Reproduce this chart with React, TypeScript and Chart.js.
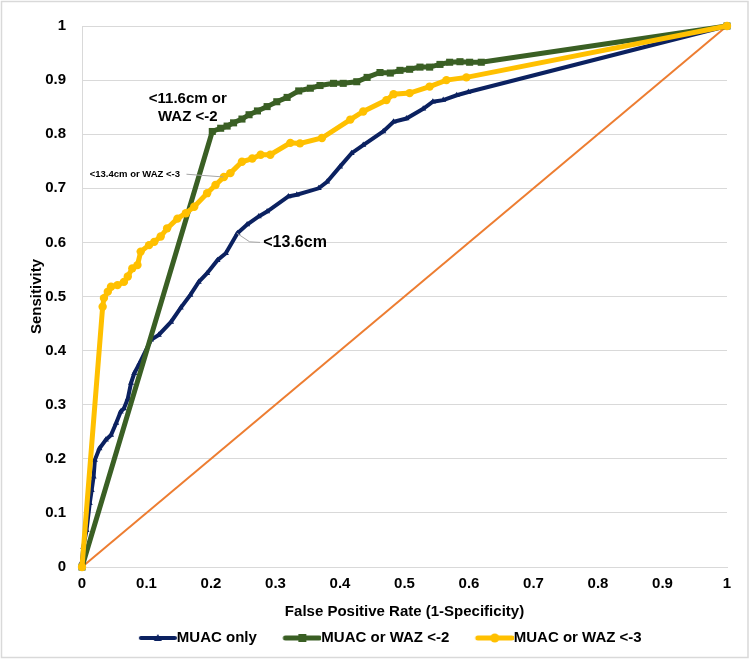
import React, { useEffect, useRef } from 'react';
import { Chart, registerables } from 'chart.js';

Chart.register(...registerables);

// ---------- data ----------
const seriesNames = ['MUAC only', 'MUAC or WAZ <-2', 'MUAC or WAZ <-3'];

const muacOnlyX = [0, 0.0, 0.002, 0.007, 0.012, 0.015, 0.018, 0.02, 0.027, 0.037, 0.045, 0.053, 0.06, 0.065, 0.071, 0.076, 0.081, 0.089, 0.107, 0.119, 0.138, 0.153, 0.168, 0.181, 0.194, 0.21, 0.223, 0.241, 0.256, 0.274, 0.287, 0.32, 0.333, 0.367, 0.38, 0.4, 0.418, 0.436, 0.467, 0.483, 0.503, 0.529, 0.544, 0.56, 0.581, 0.599, 1];
const muacOnlyY = [0, 0.01, 0.037, 0.068, 0.118, 0.142, 0.167, 0.198, 0.219, 0.235, 0.244, 0.266, 0.287, 0.293, 0.311, 0.34, 0.358, 0.376, 0.42, 0.429, 0.453, 0.479, 0.503, 0.527, 0.543, 0.567, 0.58, 0.617, 0.633, 0.648, 0.657, 0.685, 0.688, 0.7, 0.712, 0.74, 0.765, 0.78, 0.805, 0.823, 0.829, 0.847, 0.86, 0.863, 0.872, 0.878, 1];

const waz2X = [0, 0.202, 0.215, 0.225, 0.235, 0.248, 0.259, 0.272, 0.287, 0.302, 0.318, 0.336, 0.354, 0.369, 0.39, 0.405, 0.426, 0.442, 0.462, 0.478, 0.493, 0.508, 0.524, 0.539, 0.555, 0.57, 0.586, 0.601, 0.619, 1];
const waz2Y = [0, 0.805, 0.811, 0.815, 0.821, 0.828, 0.836, 0.843, 0.851, 0.86, 0.868, 0.88, 0.885, 0.89, 0.894, 0.894, 0.897, 0.905, 0.914, 0.913, 0.918, 0.92, 0.924, 0.924, 0.929, 0.933, 0.934, 0.933, 0.933, 1];

const waz3X = [0, 0.032, 0.034, 0.04, 0.045, 0.055, 0.065, 0.071, 0.078, 0.086, 0.091, 0.104, 0.112, 0.122, 0.132, 0.148, 0.161, 0.174, 0.194, 0.207, 0.22, 0.23, 0.248, 0.264, 0.277, 0.292, 0.323, 0.338, 0.372, 0.416, 0.436, 0.472, 0.483, 0.508, 0.539, 0.565, 0.596, 1];
const waz3Y = [0, 0.481, 0.497, 0.509, 0.518, 0.521, 0.527, 0.537, 0.552, 0.558, 0.583, 0.595, 0.601, 0.611, 0.626, 0.644, 0.654, 0.666, 0.691, 0.706, 0.721, 0.728, 0.749, 0.755, 0.762, 0.762, 0.784, 0.783, 0.793, 0.827, 0.842, 0.863, 0.874, 0.876, 0.888, 0.9, 0.905, 1];

const refX = [0, 1];
const refY = [0, 1];

const xTickLabels = ['0', '0.1', '0.2', '0.3', '0.4', '0.5', '0.6', '0.7', '0.8', '0.9', '1'];
const yTickLabels = ['0', '0.1', '0.2', '0.3', '0.4', '0.5', '0.6', '0.7', '0.8', '0.9', '1'];
const xTitle = 'False Positive Rate (1-Specificity)';
const yTitle = 'Sensitivity';

// annotations (anchored in data units)
const annotations = [
  { lines: ['<11.6cm or', 'WAZ <-2'], x: 0.164, y: 0.865, size: 15, align: 'center', leader: null },
  { lines: ['<13.4cm or WAZ <-3'], x: 0.012, y: 0.726, size: 9.5, align: 'left', leader: [[0.162, 0.726], [0.219, 0.721]] },
  { lines: ['<13.6cm'], x: 0.281, y: 0.599, size: 16, align: 'left', leader: [[0.24, 0.617], [0.26, 0.601], [0.276, 0.6]] },
];

// ---------- styles ----------
const FONT = '"Liberation Sans", Arial, sans-serif';
const NAVY = '#0b2160';
const GREEN = '#3a5f24';
const YELLOW = '#ffc000';
const ORANGE = '#ed7d31';

function toPoints(xs: number[], ys: number[]) {
  return xs.map((x, i) => ({ x, y: ys[i] }));
}

function makeLegendIcon(color: string, shape: string, lineWidth: number) {
  const c = document.createElement('canvas');
  c.width = 62;
  c.height = 14;
  const g = c.getContext('2d')!;
  const y = 7;
  const x0 = 24;
  const x1 = 62;
  g.strokeStyle = color;
  g.fillStyle = color;
  g.lineWidth = lineWidth;
  g.lineCap = 'round';
  g.beginPath();
  g.moveTo(x0 + 2, y);
  g.lineTo(x1 - 2, y);
  g.stroke();
  const cx = (x0 + x1) / 2;
  g.beginPath();
  if (shape === 'triangle') {
    g.moveTo(cx, y - 4);
    g.lineTo(cx + 4, y + 3);
    g.lineTo(cx - 4, y + 3);
    g.closePath();
    g.fill();
  } else if (shape === 'rect') {
    g.fillRect(cx - 4, y - 4, 8, 8);
  } else {
    g.arc(cx, y, 4.5, 0, Math.PI * 2);
    g.fill();
  }
  return c;
}

const framePlugin = {
  id: 'frame',
  beforeDraw(chart: any) {
    const { ctx, width, height } = chart;
    ctx.save();
    ctx.fillStyle = '#ffffff';
    ctx.fillRect(0, 0, width, height);
    ctx.strokeStyle = '#d9d9d9';
    ctx.lineWidth = 1.5;
    ctx.strokeRect(1.5, 1.5, width - 3.5, height - 4);
    ctx.restore();
  },
};

const annotationPlugin = {
  id: 'rocAnnotations',
  afterDatasetsDraw(chart: any) {
    const { ctx } = chart;
    const xs = chart.scales.x;
    const ys = chart.scales.y;
    ctx.save();
    for (const a of annotations) {
      if (a.leader) {
        ctx.beginPath();
        a.leader.forEach(([lx, ly]: number[], i: number) => {
          const px = xs.getPixelForValue(lx);
          const py = ys.getPixelForValue(ly);
          if (i === 0) ctx.moveTo(px, py);
          else ctx.lineTo(px, py);
        });
        ctx.strokeStyle = '#a6a6a6';
        ctx.lineWidth = 1;
        ctx.stroke();
      }
      ctx.font = `bold ${a.size}px ${FONT}`;
      ctx.fillStyle = '#000000';
      ctx.textAlign = a.align;
      ctx.textBaseline = 'middle';
      const ax = xs.getPixelForValue(a.x);
      const ay = ys.getPixelForValue(a.y);
      a.lines.forEach((t: string, i: number) => ctx.fillText(t, ax, ay + i * a.size * 1.2));
    }
    ctx.restore();
  },
};

export default function App() {
  const canvasRef = useRef<HTMLCanvasElement | null>(null);

  useEffect(() => {
    const canvas = canvasRef.current;
    if (!canvas) return;
    const icons = [
      makeLegendIcon(NAVY, 'triangle', 4),
      makeLegendIcon(GREEN, 'rect', 5),
      makeLegendIcon(YELLOW, 'circle', 5),
    ];
    const tickFont = { family: FONT, size: 15, weight: 'bold' as const };

    const chart = new Chart(canvas, {
      type: 'line',
      data: {
        datasets: [
          {
            label: seriesNames[0],
            data: toPoints(muacOnlyX, muacOnlyY),
            borderColor: NAVY,
            backgroundColor: NAVY,
            borderWidth: 4,
            pointStyle: 'triangle',
            pointRadius: 3.5,
            pointBorderWidth: 0,
            pointBackgroundColor: NAVY,
            tension: 0,
            clip: false,
            order: 3,
          },
          {
            label: seriesNames[1],
            data: toPoints(waz2X, waz2Y),
            borderColor: GREEN,
            backgroundColor: GREEN,
            borderWidth: 5,
            pointStyle: 'rect',
            pointRadius: 5,
            pointBorderWidth: 0,
            pointBackgroundColor: GREEN,
            tension: 0,
            clip: false,
            order: 2,
          },
          {
            label: seriesNames[2],
            data: toPoints(waz3X, waz3Y),
            borderColor: YELLOW,
            backgroundColor: YELLOW,
            borderWidth: 5,
            pointStyle: 'circle',
            pointRadius: 4.2,
            pointBorderWidth: 0,
            pointBackgroundColor: YELLOW,
            tension: 0,
            clip: false,
            order: 1,
          },
          {
            label: 'Reference',
            data: toPoints(refX, refY),
            borderColor: ORANGE,
            backgroundColor: ORANGE,
            borderWidth: 2,
            pointRadius: 0,
            tension: 0,
            clip: false,
            order: 4,
          },
        ],
      },
      options: {
        responsive: false,
        animation: false,
        events: [],
        layout: { padding: { left: 14, right: 0, top: 26, bottom: 4.5 } },
        scales: {
          x: {
            type: 'linear',
            position: 'bottom',
            min: 0,
            max: 1,
            ticks: {
              stepSize: 0.1,
              padding: 8,
              color: '#000000',
              font: tickFont,
              maxRotation: 0,
              autoSkip: false,
              callback: (_v: any, i: number) => xTickLabels[i],
            },
            grid: { display: false, drawTicks: false },
            border: { display: true, color: '#d9d9d9', width: 1 },
            title: { display: true, text: xTitle, color: '#000000', font: tickFont, padding: { top: 0, bottom: 0 } },
            afterFit: (s: any) => {
              s.height = 53.5;
            },
          },
          y: {
            type: 'linear',
            position: 'left',
            min: 0,
            max: 1,
            ticks: {
              stepSize: 0.1,
              padding: 16,
              color: '#000000',
              font: tickFont,
              callback: (_v: any, i: number) => yTickLabels[i],
            },
            grid: { color: '#d9d9d9', lineWidth: 1, drawTicks: false },
            border: { display: true, color: '#d9d9d9', width: 1 },
            title: { display: true, text: yTitle, color: '#000000', font: tickFont, padding: { top: 14, bottom: 0 } },
            afterFit: (s: any) => {
              s.width = 68;
            },
          },
          yR: {
            type: 'linear',
            position: 'right',
            display: true,
            grid: { display: false, drawTicks: false },
            ticks: { display: false },
            border: { display: false },
            afterFit: (s: any) => {
              s.width = 23;
            },
          },
        },
        plugins: {
          legend: {
            display: true,
            position: 'bottom',
            labels: {
              usePointStyle: true,
              pointStyleWidth: 47,
              padding: 10,
              color: '#000000',
              font: tickFont,
              filter: (item: any) => item.datasetIndex < 3,
              sort: (a: any, b: any) => a.datasetIndex - b.datasetIndex,
              generateLabels: (ch: any) => {
                const items = (Chart.defaults as any).plugins.legend.labels.generateLabels(ch);
                return items.map((it: any) => ({ ...it, pointStyle: icons[it.datasetIndex] || it.pointStyle }));
              },
            },
          },
          tooltip: { enabled: false },
        },
      },
      plugins: [framePlugin, annotationPlugin],
    } as any);

    return () => chart.destroy();
  }, []);

  return (
    <div style={{ position: 'fixed', left: 0, top: 0, width: 750, height: 660, background: '#fff' }}>
      <canvas ref={canvasRef} width={750} height={660} style={{ display: 'block' }} />
    </div>
  );
}
